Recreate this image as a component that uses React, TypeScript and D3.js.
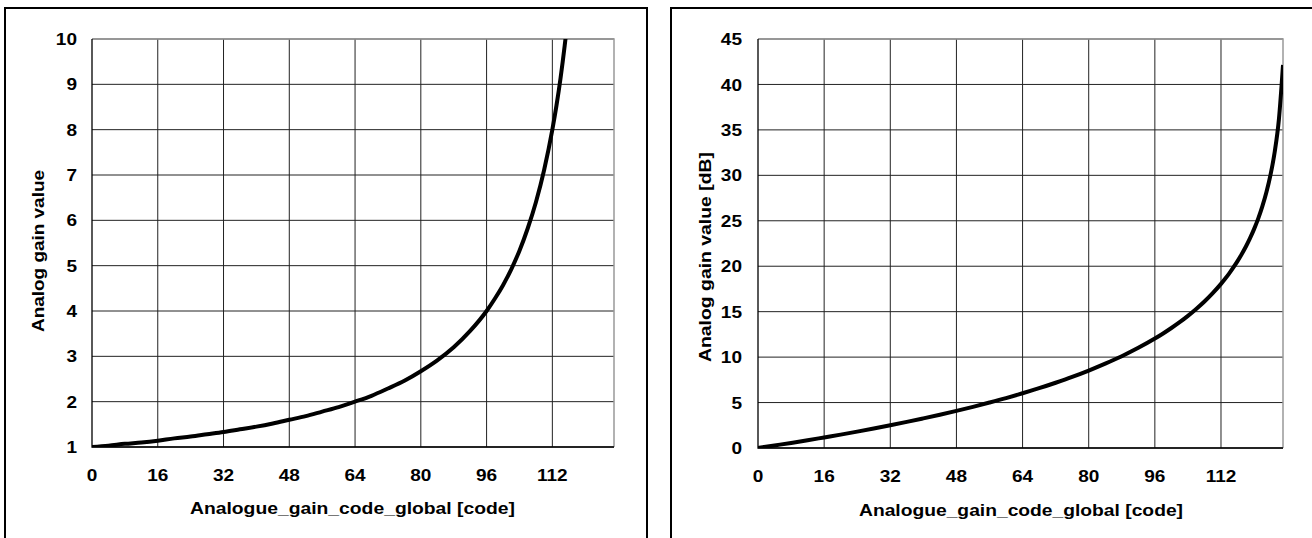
import React, { useEffect, useRef } from 'react';
import * as d3 from 'd3';

// analogue gain code (x) and the gain
const codes = [
  0, 4, 8, 12, 16, 20, 24, 28, 32, 36, 40, 44, 48, 52, 56, 60, 64, 68, 72, 76, 80, 84, 88, 92, 96,
  98, 100, 102, 104, 106, 108, 110, 112,
  113, 114, 115, 116, 117, 118, 119, 120, 121, 122, 123, 124, 125, 126, 127,
];

const gainValues = [
  1.0, 1.03, 1.07, 1.1, 1.14, 1.19, 1.23, 1.28, 1.33, 1.39, 1.45, 1.52, 1.6, 1.68, 1.78, 1.88, 2.0,
  2.13, 2.29, 2.46, 2.67, 2.91, 3.2, 3.56, 4.0,
  4.27, 4.57, 4.92, 5.33, 5.82, 6.4, 7.11, 8.0,
  8.53, 9.14, 9.85, 10.67, 11.64, 12.8, 14.22, 16.0, 18.29, 21.33, 25.6, 32.0, 42.67, 64.0, 128.0,
];

const gainDb = [
  0, 0.28, 0.56, 0.85, 1.16, 1.47, 1.8, 2.14, 2.5, 2.87, 3.26, 3.66, 4.08, 4.53, 5.0, 5.49, 6.02,
  6.58, 7.18, 7.82, 8.52, 9.28, 10.1, 11.02, 12.04,
  12.6, 13.2, 13.84, 14.54, 15.3, 16.12, 17.04, 18.06,
  18.62, 19.22, 19.87, 20.56, 21.32, 22.14, 23.06, 24.08, 25.24, 26.58, 28.16, 30.1, 32.6, 36.12, 42.14,
];

const xTicks = [0, 16, 32, 48, 64, 80, 96, 112];
const gainTicks = [1, 2, 3, 4, 5, 6, 7, 8, 9, 10];
const dbTicks = [0, 5, 10, 15, 20, 25, 30, 35, 40, 45];

const xTitle = 'Analogue_gain_code_global [code]';
const FONT = "'Liberation Sans', Arial, sans-serif";

function drawPanel(svg, o) {
  const x = d3.scaleLinear().domain([0, 127]).range([o.left, o.right]);
  const y = d3.scaleLinear().domain(o.domain).range([o.bottom, o.top]);

  // outer frame (bottom / right cut off by the page)
  svg
    .append('path')
    .attr('d', `M${o.frameL},${o.frameB} V${o.frameT} H${o.frameR} V${o.frameB}`)
    .attr('fill', 'none')
    .attr('stroke', '#000')
    .attr('stroke-width', 2);

  // grid
  const g = svg.append('g');
  g.selectAll('.hg')
    .data(o.ticks)
    .enter()
    .append('line')
    .attr('x1', o.left)
    .attr('x2', o.right)
    .attr('y1', (d) => y(d))
    .attr('y2', (d) => y(d))
    .attr('stroke', '#222')
    .attr('stroke-width', 1);
  g.selectAll('.vg')
    .data(xTicks.slice(1))
    .enter()
    .append('line')
    .attr('x1', (d) => x(d))
    .attr('x2', (d) => x(d))
    .attr('y1', o.top)
    .attr('y2', o.bottom)
    .attr('stroke', '#222')
    .attr('stroke-width', 1);

  // plot border: grey top/right, black axes
  g.append('path')
    .attr('d', `M${o.left},${o.top} H${o.right} V${o.bottom}`)
    .attr('fill', 'none')
    .attr('stroke', '#999')
    .attr('stroke-width', 1.5);
  g.append('path')
    .attr('d', `M${o.left},${o.top} V${o.bottom} H${o.right}`)
    .attr('fill', 'none')
    .attr('stroke', '#000')
    .attr('stroke-width', 1.3);

  // curve, clipped to the plot area
  svg
    .append('clipPath')
    .attr('id', o.id)
    .append('rect')
    .attr('x', o.left)
    .attr('y', o.top)
    .attr('width', o.right - o.left)
    .attr('height', o.bottom - o.top);

  const line = d3
    .line()
    .x((d, i) => x(codes[i]))
    .y((d) => y(d))
    .curve(d3.curveMonotoneX);

  svg
    .append('path')
    .datum(o.values)
    .attr('clip-path', `url(#${o.id})`)
    .attr('fill', 'none')
    .attr('stroke', '#000')
    .attr('stroke-width', 4)
    .attr('stroke-linejoin', 'round')
    .attr('d', line);

  const txt = svg
    .append('g')
    .attr('font-family', FONT)
    .attr('font-weight', 'bold')
    .attr('font-size', 17)
    .attr('fill', '#000');

  // y tick labels
  txt
    .selectAll('.yl')
    .data(o.ticks)
    .enter()
    .append('text')
    .attr('transform', (d) => `translate(${o.yLabelX},${y(d)}) scale(1.12,1)`)
    .attr('text-anchor', 'end')
    .attr('dy', '0.36em')
    .text((d) => d);

  // x tick labels
  txt
    .selectAll('.xl')
    .data(xTicks)
    .enter()
    .append('text')
    .attr('transform', (d) => `translate(${x(d)},${o.xLabelY}) scale(1.12,1)`)
    .attr('text-anchor', 'middle')
    .attr('dy', '0.36em')
    .text((d) => d);

  // axis titles
  txt
    .append('text')
    .attr('x', (o.xTitleL + o.xTitleR) / 2)
    .attr('y', o.xTitleY)
    .attr('text-anchor', 'middle')
    .attr('textLength', o.xTitleR - o.xTitleL)
    .attr('lengthAdjust', 'spacingAndGlyphs')
    .text(xTitle);

  txt
    .append('text')
    .attr('transform', `translate(${o.yTitleX},${o.yTitleY}) rotate(-90)`)
    .attr('text-anchor', 'middle')
    .attr('textLength', o.yTitleLen)
    .attr('lengthAdjust', 'spacingAndGlyphs')
    .text(o.yTitle);
}

function App() {
  const chartRef = useRef(null);

  useEffect(() => {
    const svg = d3.select(chartRef.current);
    svg.selectAll('*').remove();

    drawPanel(svg, {
      id: 'clipA',
      frameL: 5, frameT: 8, frameR: 647, frameB: 545,
      left: 92, right: 614, top: 39, bottom: 447,
      domain: [1, 10],
      ticks: gainTicks,
      values: gainValues,
      yLabelX: 77,
      xLabelY: 475,
      xTitleL: 190, xTitleR: 515, xTitleY: 514,
      yTitle: 'Analog gain value',
      yTitleX: 44, yTitleY: 251, yTitleLen: 162,
    });

    drawPanel(svg, {
      id: 'clipB',
      frameL: 671, frameT: 8, frameR: 1320, frameB: 545,
      left: 758, right: 1283, top: 39, bottom: 448,
      domain: [0, 45],
      ticks: dbTicks,
      values: gainDb,
      yLabelX: 742,
      xLabelY: 476,
      xTitleL: 859, xTitleR: 1183, xTitleY: 516,
      yTitle: 'Analog gain value [dB]',
      yTitleX: 711, yTitleY: 257, yTitleLen: 210,
    });
  }, []);

  return (
    <svg
      ref={chartRef}
      width={1312}
      height={538}
      style={{ position: 'absolute', left: 0, top: 0, background: '#fff' }}
    ></svg>
  );
}

export default App;
